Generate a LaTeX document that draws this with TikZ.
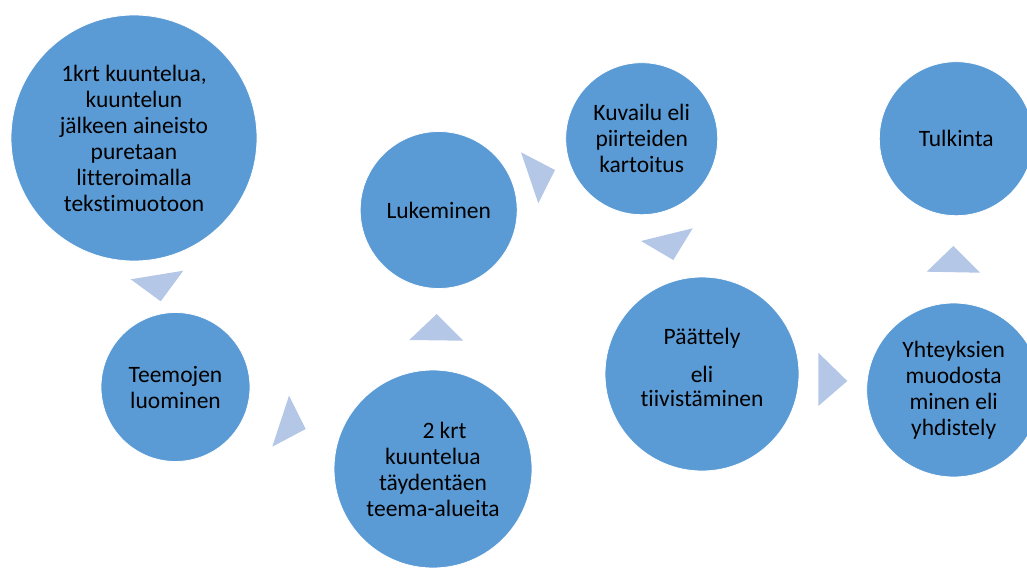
\documentclass[tikz,border=0pt]{standalone}
\usepackage{fontspec}
\setmainfont{Carlito}[RawFeature=-liga]
\definecolor{circblue}{RGB}{91,155,213}
\definecolor{trilight}{RGB}{180,199,231}
\begin{document}
\begin{tikzpicture}[x=1pt,y=-1pt,
  circ/.style={circle,fill=circblue,draw=white,line width=0.8pt,inner sep=0pt,align=center,
    font=\fontsize{23.5}{26}\selectfont,text=black},
  txt/.style={inner sep=0pt,align=center,font=\fontsize{23.5}{24}\selectfont,text=black},
  tri/.style={fill=trilight,draw=none}]
\useasboundingbox (0,0) rectangle (1027,567);
\clip (0,0) rectangle (1027,567);
% circles
\node[circ,minimum size=246pt] (c1) at (134,138) {1krt kuuntelua,\\kuuntelun\\jälkeen aineisto\\puretaan\\litteroimalla\\tekstimuotoon};
\node[circ,minimum size=149pt] (c2) at (175.5,387) {Teemojen\\luominen};
\node[circ,minimum size=198pt] (c3) at (433,469) {\hspace*{23pt}2 krt\\kuuntelua\\täydentäen\\teema-alueita};
\node[circ,minimum size=157pt] (c4) at (438.7,210) {Lukeminen};
\node[circ,minimum size=152pt] (c5) at (641.7,138.7) {Kuvailu eli\\piirteiden\\kartoitus};
\node[circ,minimum size=194pt] (c6) at (702,374) {};
\node[txt] (t6) at (702,367.5) {Päättely\\[14pt]eli\\tiivistäminen};
\node[circ,minimum size=174pt] (c7) at (953.7,390) {Yhteyksien\\muodosta\\minen eli\\yhdistely};
\node[circ,minimum size=154pt] (c8) at (956.3,138.7) {Tulkinta};
% arrows (triangles)
\fill[tri] (130.7,279.3) -- (183.3,270.7) -- (160.7,301.3) -- cycle;
\fill[tri] (289,395.7) -- (305.7,429) -- (272.3,446.7) -- cycle;
\fill[tri] (436.7,314) -- (463.3,340.7) -- (409.3,340) -- cycle;
\fill[tri] (521,152.3) -- (555,170) -- (538.3,203.3) -- cycle;
\fill[tri] (641,241) -- (692.7,228.3) -- (673.3,260) -- cycle;
\fill[tri] (818.3,352.7) -- (847.3,381) -- (818.3,406) -- cycle;
\fill[tri] (953.3,246) -- (980,272.7) -- (926.7,271.7) -- cycle;
\end{tikzpicture}
\end{document}
